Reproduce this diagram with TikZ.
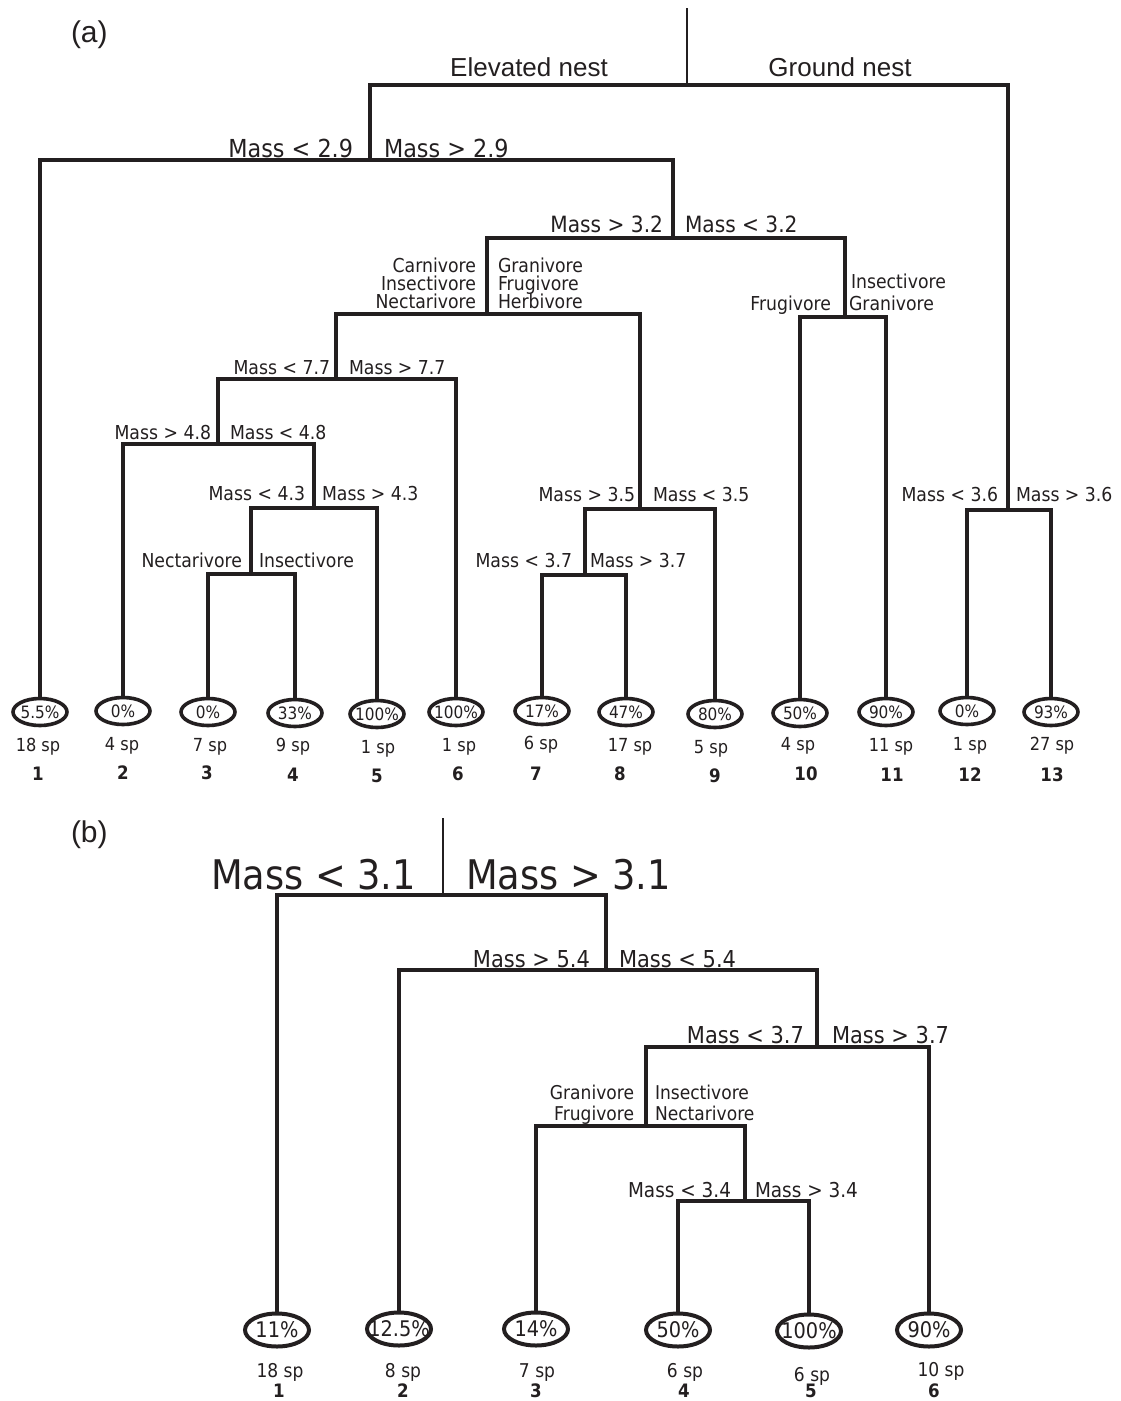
\documentclass[tikz,border=0pt]{standalone}
\usepackage{fontspec}
\setmainfont{DejaVu Sans}[FakeStretch=0.9]
\newfontfamily\hvfont{Liberation Sans}
\usetikzlibrary{shapes.geometric}
\definecolor{ink}{RGB}{35,31,32}
\newcommand\zpc[1]{\makebox[0pt]{#1}}
\begin{document}
\begin{tikzpicture}[x=1pt,y=-1pt,
  every node/.style={text=ink},
  tree/.style={draw=ink,line width=3.2pt,line join=miter},
  stem/.style={draw=ink,line width=2.8pt},
  leafa/.style={ellipse,draw=ink,line width=3.6pt,minimum width=54pt,minimum height=27pt,inner sep=0pt,fill=white,font=\fontsize{17}{17}\selectfont},
  leafb/.style={ellipse,draw=ink,line width=4pt,minimum width=64pt,minimum height=33pt,inner sep=0pt,fill=white,font=\fontsize{21.5}{21}\selectfont},
  lab/.style={inner sep=0pt,outer sep=0pt},
  panel/.style={lab,font=\hvfont\fontsize{30}{32}\selectfont},
  nest/.style={lab,font=\hvfont\fontsize{26}{28}\selectfont},
  biga/.style={lab,font=\fontsize{24.8}{28}\selectfont},
  bigb/.style={lab,font=\fontsize{22.4}{26}\selectfont},
  mida/.style={lab,font=\fontsize{19.2}{22}\selectfont},
  hugeb/.style={lab,font=\fontsize{40.8}{44}\selectfont},
  midb/.style={lab,font=\fontsize{23.3}{26}\selectfont},
  smb/.style={lab,font=\fontsize{19}{22}\selectfont},
  sm34/.style={lab,font=\fontsize{20.5}{22}\selectfont},
  spa/.style={lab,anchor=base,font=\fontsize{18}{20}\selectfont},
  numa/.style={lab,anchor=base,font=\bfseries\fontsize{18.5}{20}\selectfont},
  spb/.style={lab,anchor=base,font=\fontsize{19}{22}\selectfont},
  numb/.style={lab,anchor=base,font=\bfseries\fontsize{18.5}{20}\selectfont},
]
\useasboundingbox (0,0) rectangle (1120,1401);

% ---------------- panel (a) ----------------
\node[panel,anchor=base west] (pa) at (71,42) {(a)};

\coordinate (a0) at (687,8);
\coordinate (aR) at (687,85);
\coordinate (aE) at (370,160);
\coordinate (aG) at (1008,510);
\coordinate (aM29) at (673,238);
\coordinate (aM32) at (487,314);
\coordinate (aD1) at (845,317);
\coordinate (aC) at (336,379);
\coordinate (aM77) at (218,444);
\coordinate (aM48) at (314,508);
\coordinate (aM43) at (251,574);
\coordinate (aG2) at (640,509);
\coordinate (aM35) at (585,575);

\node[leafa] (la1) at (40,712) {\zpc{5.5\%}};
\node[leafa] (la2) at (123,711) {\zpc{0\%}};
\node[leafa] (la3) at (208,712) {\zpc{0\%}};
\node[leafa] (la4) at (295,713) {\zpc{33\%}};
\node[leafa] (la5) at (377,714) {\zpc{100\%}};
\node[leafa] (la6) at (456,712) {\zpc{100\%}};
\node[leafa] (la7) at (542,711) {\zpc{17\%}};
\node[leafa] (la8) at (626,712) {\zpc{47\%}};
\node[leafa] (la9) at (715,714) {\zpc{80\%}};
\node[leafa] (la10) at (800,713) {\zpc{50\%}};
\node[leafa] (la11) at (886,712) {\zpc{90\%}};
\node[leafa] (la12) at (967,711) {\zpc{0\%}};
\node[leafa] (la13) at (1051,712) {\zpc{93\%}};

\draw[stem] (a0) -- (aR);
\draw[tree] (aR) -| (aE);
\draw[tree] (aR) -| (aG);
\draw[tree] (aE) -| (la1.north);
\draw[tree] (aE) -| (aM29);
\draw[tree] (aM29) -| (aM32);
\draw[tree] (aM29) -| (aD1);
\draw[tree] (aM32) -| (aC);
\draw[tree] (aM32) -| (aG2);
\draw[tree] (aC) -| (aM77);
\draw[tree] (aC) -| (la6.north);
\draw[tree] (aM77) -| (la2.north);
\draw[tree] (aM77) -| (aM48);
\draw[tree] (aM48) -| (aM43);
\draw[tree] (aM48) -| (la5.north);
\draw[tree] (aM43) -| (la3.north);
\draw[tree] (aM43) -| (la4.north);
\draw[tree] (aG2) -| (aM35);
\draw[tree] (aG2) -| (la9.north);
\draw[tree] (aM35) -| (la7.north);
\draw[tree] (aM35) -| (la8.north);
\draw[tree] (aD1) -| (la10.north);
\draw[tree] (aD1) -| (la11.north);
\draw[tree] (aG) -| (la12.north);
\draw[tree] (aG) -| (la13.north);

\node[nest,anchor=base] (tEl) at (529,76) {Elevated nest};
\node[nest,anchor=base] (tGr) at (840,76) {Ground nest};
\node[biga,anchor=base east] (t1) at (353,157) {Mass < 2.9};
\node[biga,anchor=base west] (t2) at (384,157) {Mass > 2.9};
\node[bigb,anchor=base east] (t3) at (663,232) {Mass > 3.2};
\node[bigb,anchor=base west] (t4) at (685,232) {Mass < 3.2};
\node[mida,anchor=base east] (t5a) at (476,272) {Carnivore};
\node[mida,anchor=base east] (t5b) at (476,290) {Insectivore};
\node[mida,anchor=base east] (t5c) at (476,308) {Nectarivore};
\node[mida,anchor=base west] (t6a) at (498,272) {Granivore};
\node[mida,anchor=base west] (t6b) at (498,290) {Frugivore};
\node[mida,anchor=base west] (t6c) at (498,308) {Herbivore};
\node[mida,anchor=base east] (t7) at (831,310) {Frugivore};
\node[mida,anchor=base west] (t8a) at (851,288) {Insectivore};
\node[mida,anchor=base west] (t8b) at (849,310) {Granivore};
\node[mida,anchor=base east] (t9) at (330,374) {Mass < 7.7};
\node[mida,anchor=base west] (t10) at (349,374) {Mass > 7.7};
\node[mida,anchor=base east] (t11) at (211,439) {Mass > 4.8};
\node[mida,anchor=base west] (t12) at (230,439) {Mass < 4.8};
\node[mida,anchor=base east] (t13) at (305,500) {Mass < 4.3};
\node[mida,anchor=base west] (t14) at (322,500) {Mass > 4.3};
\node[mida,anchor=base east] (t15) at (242,567) {Nectarivore};
\node[mida,anchor=base west] (t16) at (259,567) {Insectivore};
\node[mida,anchor=base east] (t17) at (635,501) {Mass > 3.5};
\node[mida,anchor=base west] (t18) at (653,501) {Mass < 3.5};
\node[mida,anchor=base east] (t19) at (572,567) {Mass < 3.7};
\node[mida,anchor=base west] (t20) at (590,567) {Mass > 3.7};
\node[mida,anchor=base east] (t21) at (998,501) {Mass < 3.6};
\node[mida,anchor=base west] (t22) at (1016,501) {Mass > 3.6};

\node[spa] (sa1) at (38,751) {18 sp};
\node[spa] (sa2) at (122,750) {4 sp};
\node[spa] (sa3) at (210,751) {7 sp};
\node[spa] (sa4) at (293,751) {9 sp};
\node[spa] (sa5) at (378,753) {1 sp};
\node[spa] (sa6) at (459,751) {1 sp};
\node[spa] (sa7) at (541,749) {6 sp};
\node[spa] (sa8) at (630,751) {17 sp};
\node[spa] (sa9) at (711,753) {5 sp};
\node[spa] (sa10) at (798,750) {4 sp};
\node[spa] (sa11) at (891,751) {11 sp};
\node[spa] (sa12) at (970,750) {1 sp};
\node[spa] (sa13) at (1052,750) {27 sp};

\node[numa] (na1) at (38,780) {1};
\node[numa] (na2) at (123,779) {2};
\node[numa] (na3) at (207,779) {3};
\node[numa] (na4) at (293,781) {4};
\node[numa] (na5) at (377,782) {5};
\node[numa] (na6) at (458,780) {6};
\node[numa] (na7) at (536,780) {7};
\node[numa] (na8) at (620,780) {8};
\node[numa] (na9) at (715,782) {9};
\node[numa] (na10) at (806,780) {10};
\node[numa] (na11) at (892,781) {11};
\node[numa] (na12) at (970,781) {12};
\node[numa] (na13) at (1052,781) {13};

% ---------------- panel (b) ----------------
\node[panel,anchor=base west] (pb) at (71,842) {(b)};

\coordinate (b0) at (443,818);
\coordinate (bR) at (443,895);
\coordinate (bM31) at (606,970);
\coordinate (bM54) at (817,1047);
\coordinate (bM37) at (646,1126);
\coordinate (bD) at (745,1201);

\node[leafb] (lb1) at (277,1330) {\zpc{11\%}};
\node[leafb] (lb2) at (399,1329) {\zpc{12.5\%}};
\node[leafb] (lb3) at (536,1329) {\zpc{14\%}};
\node[leafb] (lb4) at (678,1330) {\zpc{50\%}};
\node[leafb] (lb5) at (809,1331) {\zpc{100\%}};
\node[leafb] (lb6) at (929,1330) {\zpc{90\%}};

\draw[stem] (b0) -- (bR);
\draw[tree] (bR) -| (lb1.north);
\draw[tree] (bR) -| (bM31);
\draw[tree] (bM31) -| (lb2.north);
\draw[tree] (bM31) -| (bM54);
\draw[tree] (bM54) -| (bM37);
\draw[tree] (bM54) -| (lb6.north);
\draw[tree] (bM37) -| (lb3.north);
\draw[tree] (bM37) -| (bD);
\draw[tree] (bD) -| (lb4.north);
\draw[tree] (bD) -| (lb5.north);

\node[hugeb,anchor=base east] (u1) at (416,889) {Mass < 3.1};
\node[hugeb,anchor=base west] (u2) at (466,889) {Mass > 3.1};
\node[midb,anchor=base east] (u3) at (590,967) {Mass > 5.4};
\node[midb,anchor=base west] (u4) at (619,967) {Mass < 5.4};
\node[midb,anchor=base east] (u5) at (804,1043) {Mass < 3.7};
\node[midb,anchor=base west] (u6) at (832,1043) {Mass > 3.7};
\node[smb,anchor=base east] (u7a) at (634,1099) {Granivore};
\node[smb,anchor=base east] (u7b) at (634,1120) {Frugivore};
\node[smb,anchor=base west] (u8a) at (655,1099) {Insectivore};
\node[smb,anchor=base west] (u8b) at (655,1120) {Nectarivore};
\node[sm34,anchor=base east] (u9) at (731,1197) {Mass < 3.4};
\node[sm34,anchor=base west] (u10) at (755,1197) {Mass > 3.4};

\node[spb] (sb1) at (280,1377) {18 sp};
\node[spb] (sb2) at (403,1377) {8 sp};
\node[spb] (sb3) at (537,1377) {7 sp};
\node[spb] (sb4) at (685,1377) {6 sp};
\node[spb] (sb5) at (812,1381) {6 sp};
\node[spb] (sb6) at (941,1376) {10 sp};

\node[numb] (nb1) at (279,1397) {1};
\node[numb] (nb2) at (403,1397) {2};
\node[numb] (nb3) at (536,1397) {3};
\node[numb] (nb4) at (684,1397) {4};
\node[numb] (nb5) at (811,1397) {5};
\node[numb] (nb6) at (934,1397) {6};
\end{tikzpicture}
\end{document}
